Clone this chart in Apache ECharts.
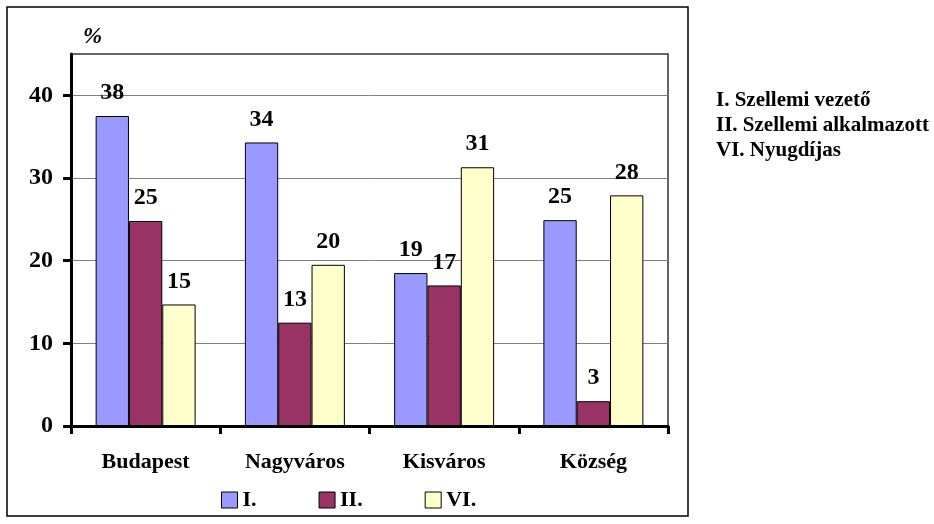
<!DOCTYPE html>
<html>
<head>
<meta charset="utf-8">
<style>
html,body{margin:0;padding:0;background:#fff;}
#chart{width:934px;height:524px;}
</style>
<script src="https://cdn.jsdelivr.net/npm/echarts@6/dist/echarts.min.js"></script>
</head>
<body>
<div id="chart"></div>
<script>
const categories = ['Budapest', 'Nagyváros', 'Kisváros', 'Község'];
const seriesNames = ['I.', 'II.', 'VI.'];
const valuesI = [37.5, 34.3, 18.5, 24.9];
const valuesII = [24.8, 12.5, 17.0, 3.0];
const valuesVI = [14.7, 19.5, 31.3, 27.9];
const yTicks = [0, 10, 20, 30, 40];
const notes = ['I. Szellemi vezető', 'II. Szellemi alkalmazott', 'VI. Nyugdíjas'];

const FONT = "'Liberation Serif', 'Times New Roman', serif";
const colors = ['#9999FF', '#993366', '#FFFFCC'];
const allValues = [valuesI, valuesII, valuesVI];

const chart = echarts.init(document.getElementById('chart'));
const option = {
  animation: false,
  backgroundColor: '#fff',
  grid: {
    left: 71, right: 266, top: 54, bottom: 98,
    show: true, borderColor: '#333', borderWidth: 1.5, backgroundColor: 'transparent'
  },
  legend: {
    data: seriesNames,
    bottom: 8,
    left: 216,
    icon: 'rect',
    itemWidth: 16,
    itemHeight: 16,
    itemGap: 62,
    itemStyle: { borderColor: '#000', borderWidth: 1 },
    textStyle: { fontFamily: FONT, fontWeight: 'bold', fontSize: 22, color: '#000' }
  },
  xAxis: {
    type: 'category',
    data: categories,
    axisLine: { lineStyle: { color: '#000', width: 3 } },
    axisTick: { show: true, length: 8, lineStyle: { color: '#000', width: 3 } },
    axisLabel: { fontFamily: FONT, fontWeight: 'bold', fontSize: 22, color: '#000', margin: 25 }
  },
  yAxis: {
    type: 'value',
    min: 0, max: 45, interval: 5,
    name: '%',
    nameLocation: 'end',
    nameGap: 5,
    nameTextStyle: { fontFamily: FONT, fontWeight: 'bold', fontStyle: 'italic', fontSize: 23, color: '#000', align: 'left', padding: [0, 0, 0, 12] },
    axisLine: { show: true, lineStyle: { color: '#000', width: 3 } },
    axisTick: { show: true, length: 8, lineStyle: { color: '#000', width: 3 }, customValues: yTicks },
    axisLabel: { fontFamily: FONT, fontWeight: 'bold', fontSize: 24, color: '#000', margin: 18, customValues: yTicks },
    splitLine: { show: true, lineStyle: { color: '#808080', width: 1 } }
  },
  series: seriesNames.map((n, i) => ({
    name: n,
    type: 'bar',
    data: allValues[i],
    barGap: '0%',
    barCategoryGap: '33%',
    itemStyle: { color: colors[i], borderColor: '#000', borderWidth: 1 },
    label: {
      show: true, position: 'top', distance: 11,
      formatter: p => String(Math.round(p.value)),
      fontFamily: FONT, fontWeight: 'bold', fontSize: 24, color: '#000'
    }
  })),
  graphic: [
    { type: 'rect', shape: { x: 7, y: 7, width: 681, height: 509 }, style: { fill: 'none', stroke: '#000', lineWidth: 1.5 }, silent: true },
    ...notes.map((t, i) => ({
      type: 'text', left: 716, top: 90 + i * 25,
      style: { text: t, fontFamily: FONT, fontWeight: 'bold', fontSize: 21, fill: '#000' }
    }))
  ]
};
chart.setOption(option);
</script>
</body>
</html>
